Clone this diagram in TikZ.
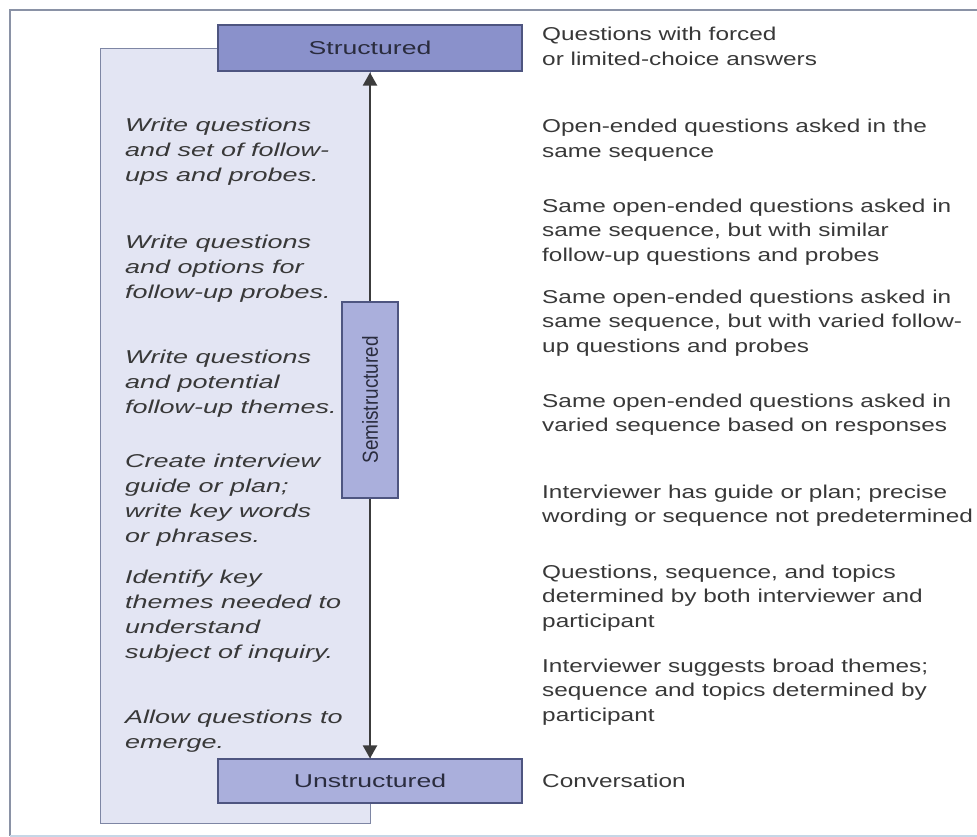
\documentclass[tikz,border=0pt]{standalone}
\usepackage{fontspec}
\setmainfont{Liberation Sans}
\newfontfamily\rightfont{Liberation Sans}[FakeStretch=1.31]
\newfontfamily\leftfont{Liberation Sans}[FakeStretch=1.45]
\newfontfamily\boxfont{Liberation Sans}[FakeStretch=1.43]
\usetikzlibrary{arrows.meta}

\definecolor{framecol}{HTML}{8A92A6}
\definecolor{framelow}{HTML}{C6D6E6}
\definecolor{panelfill}{HTML}{E3E5F3}
\definecolor{paneledge}{HTML}{7E86A4}
\definecolor{topfill}{HTML}{8A91CB}
\definecolor{midfill}{HTML}{AAAFDC}
\definecolor{boxedge}{HTML}{4E5580}
\definecolor{txt}{HTML}{383838}
\definecolor{boxtxt}{HTML}{2A2C3E}
\definecolor{arrowcol}{HTML}{3C3C3C}

\tikzset{
  panel/.style={draw=paneledge, line width=1.1pt, fill=panelfill, inner sep=0pt},
  levelbox/.style={draw=boxedge, line width=1.1pt, inner sep=0pt, text=boxtxt},
  toplevel/.style={levelbox, fill=topfill, font=\boxfont\fontsize{18.6}{22}\selectfont},
  lowlevel/.style={levelbox, fill=midfill, font=\boxfont\fontsize{18.6}{22}\selectfont},
  midlevel/.style={levelbox, fill=midfill, font=\fontsize{18.9}{22}\selectfont},
  % the base anchor of a multi-line node sits on its last line
  rtext/.style={anchor=base west, align=left, inner sep=0pt, text=txt,
    font=\rightfont\fontsize{18.6}{24.5}\selectfont},
  ltext/.style={anchor=base west, align=left, inner sep=0pt, text=txt,
    font=\leftfont\itshape\fontsize{18.6}{25}\selectfont},
  axis/.style={draw=arrowcol, line width=2pt,
    {Triangle[length=13pt,width=14pt]}-{Triangle[length=13pt,width=14pt]}}
}

\begin{document}
\begin{tikzpicture}[x=1pt,y=-1pt]
\useasboundingbox (0,0) rectangle (977,837);

% outer frame, open on the right
\draw[framecol, line width=1.2pt] (977,10) -- (10,10) -- (10,836);
\draw[framelow, line width=1.2pt] (10,836) -- (977,836);

% shaded panel behind the preparation notes
\node[panel, anchor=north west, minimum width=270pt, minimum height=775pt] (panel) at (100,48) {};

% end points of the continuum
\node[toplevel, minimum width=304pt, minimum height=46pt] (st) at (370,48) {Structured};
\node[lowlevel, minimum width=304pt, minimum height=44pt] (un) at (370,781) {Unstructured};

% double-headed axis between the two ends
\draw[axis, shorten <=1pt] (st.south) -- (un.north);

% middle of the continuum, set over the axis
\node[midlevel, rotate=90, minimum width=196pt, minimum height=56pt] (semi) at (370,400)
  {\scalebox{1}[1.15]{Semistructured}};

% preparation notes (left)
\node[ltext] (l1) at (125,182) {Write questions\\and set of follow-\\ups and probes.};
\node[ltext] (l2) at (125,298) {Write questions\\and options for\\follow-up probes.};
\node[ltext] (l3) at (125,413) {Write questions\\and potential\\follow-up themes.};
\node[ltext] (l4) at (125,542) {Create interview\\guide or plan;\\write key words\\or phrases.};
\node[ltext] (l5) at (125,658) {Identify key\\themes needed to\\understand\\subject of inquiry.};
\node[ltext] (l6) at (125,748) {Allow questions to\\emerge.};

% interview descriptions (right)
\node[rtext] (r0) at (542,65.5) {Questions with forced\\or limited-choice answers};
\node[rtext] (r1) at (542,157.5) {Open-ended questions asked in the\\same sequence};
\node[rtext] (r2) at (542,261) {Same open-ended questions asked in\\same sequence, but with similar\\follow-up questions and probes};
\node[rtext] (r3) at (542,352) {Same open-ended questions asked in\\same sequence, but with varied follow-\\up questions and probes};
\node[rtext] (r4) at (542,431.5) {Same open-ended questions asked in\\varied sequence based on responses};
\node[rtext] (r5) at (542,522.5) {Interviewer has guide or plan; precise\\wording or sequence not predetermined};
\node[rtext] (r6) at (542,627) {Questions, sequence, and topics\\determined by both interviewer and\\participant};
\node[rtext] (r7) at (542,721) {Interviewer suggests broad themes;\\sequence and topics determined by\\participant};
\node[rtext] (r8) at (542,787) {Conversation};
\end{tikzpicture}
\end{document}
